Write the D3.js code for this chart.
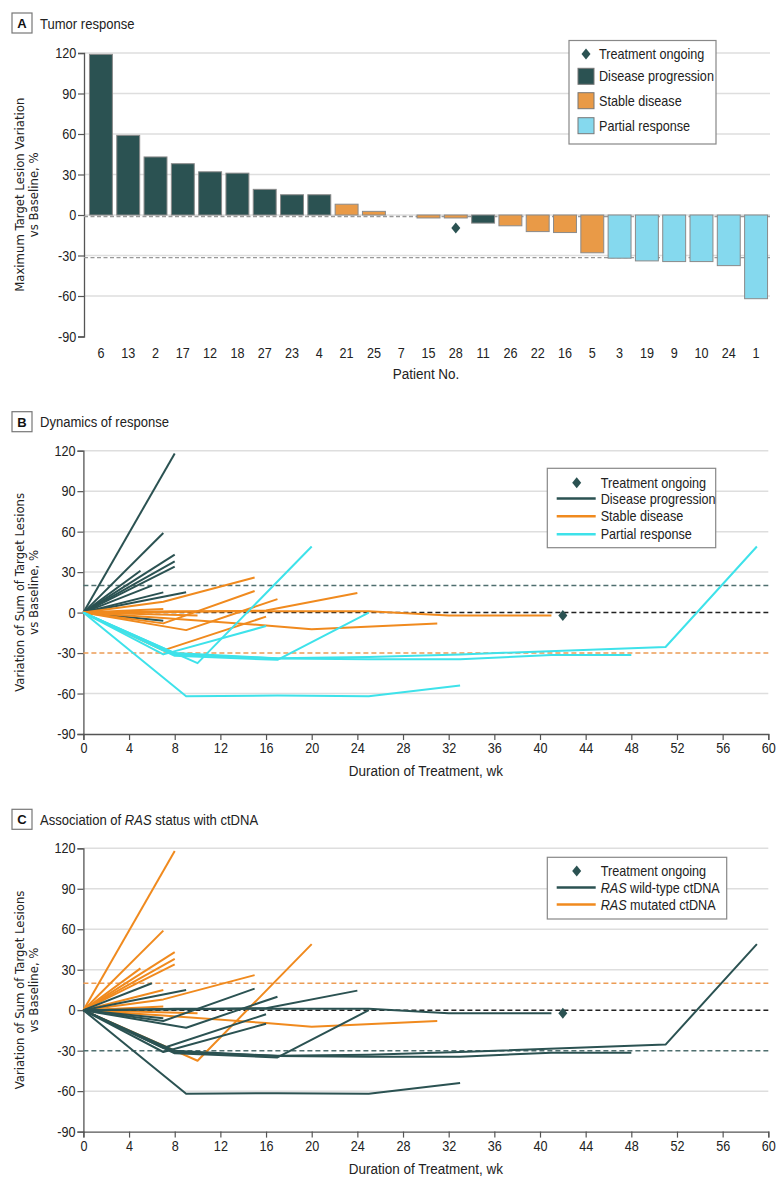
<!DOCTYPE html>
<html><head><meta charset="utf-8">
<script src="https://cdn.jsdelivr.net/npm/d3@7"></script>
<style>body{margin:0;background:#fff}</style>
</head><body>
<svg id="chart" width="780" height="1187" xmlns="http://www.w3.org/2000/svg"></svg>
<script>
// ---------- DATA ----------
const patients = ["6","13","2","17","12","18","27","23","4","21","25","7","15","28","11","26","22","16","5","3","19","9","10","24","1"];
const maxVariation = [119,59,43,38,32,31,19,15,15,8,2.7,0,-2.2,-2.2,-6,-8,-12.3,-13,-28,-32,-34,-34.5,-34.5,-37.5,-62];
const responseGroup = ["PD","PD","PD","PD","PD","PD","PD","PD","PD","SD","SD","SD","SD","SD","PD","SD","SD","SD","SD","PR","PR","PR","PR","PR","PR"];
const rasStatus = ["mut","mut","mut","mut","mut","mut","wt","mut","wt","mut","mut","wt","mut","wt","wt","wt","mut","wt","wt","wt","wt","wt","wt","mut","wt"];
const ongoingPatients = ["28"];
const ongoingVariationA = [-9.6];
const ongoingWeek = [42];
const ongoingValue = [-2.2];

// weeks and values of the sum of target lesions, one small array pair per patient
const trajectories = [
  {patient:"6",  weeks:[0,8],  values:[0,118]},
  {patient:"13", weeks:[0,7],  values:[0,59]},
  {patient:"2",  weeks:[0,8],  values:[0,43]},
  {patient:"17", weeks:[0,8],  values:[0,38]},
  {patient:"12", weeks:[0,8],  values:[0,34]},
  {patient:"18", weeks:[0,5],  values:[0,31]},
  {patient:"27", weeks:[0,6],  values:[0,20]},
  {patient:"23", weeks:[0,7],  values:[0,15]},
  {patient:"4",  weeks:[0,9],  values:[0,15]},
  {patient:"11", weeks:[0,7],  values:[0,-6]},
  {patient:"21", weeks:[0,7,15], values:[0,8,26]},
  {patient:"25", weeks:[0,7],  values:[0,2.7]},
  {patient:"7",  weeks:[0,8,16,24], values:[0,0.5,1.5,14.5]},
  {patient:"15", weeks:[0,10], values:[0,-2.2]},
  {patient:"28", weeks:[0,8,17,25,32,41], values:[0,1,1,1,-2.2,-2.2]},
  {patient:"26", weeks:[0,7,15], values:[0,-8,16]},
  {patient:"22", weeks:[0,7,16,20,31], values:[0,-4,-9.5,-12.3,-8]},
  {patient:"16", weeks:[0,9,17], values:[0,-13,10]},
  {patient:"5",  weeks:[0,7,16], values:[0,-28,-3]},
  {patient:"3",  weeks:[0,7,16], values:[0,-31,-10]},
  {patient:"19", weeks:[0,8,17,25,33,51,59], values:[0,-31,-33.8,-33,-31,-25.5,49]},
  {patient:"9",  weeks:[0,8,17,25,33,41,48], values:[0,-30,-34,-34.5,-34.5,-31.5,-31.5]},
  {patient:"10", weeks:[0,8,17,25], values:[0,-32,-35,0]},
  {patient:"24", weeks:[0,8,10,20], values:[0,-30,-37.5,49]},
  {patient:"1",  weeks:[0,9,17,25,33], values:[0,-62,-61.5,-62,-54]}
];

const yTicks = [-90,-60,-30,0,30,60,90,120];
const weekTicks = [0,4,8,12,16,20,24,28,32,36,40,44,48,52,56,60];
const legendA = ["Treatment ongoing","Disease progression","Stable disease","Partial response"];
const legendB = ["Treatment ongoing","Disease progression","Stable disease","Partial response"];

// ---------- STYLE ----------
const C_DARK = "#2b5252", C_ORANGE_BAR = "#e99a47", C_BLUE_BAR = "#85d9ee";
const C_ORANGE = "#f08a1e", C_CYAN = "#3ee2ea";
const barFill = {PD:C_DARK, SD:C_ORANGE_BAR, PR:C_BLUE_BAR};
const lineColB = {PD:C_DARK, SD:C_ORANGE, PR:C_CYAN};
const lineColC = {wt:C_DARK, mut:C_ORANGE};
const FN = "'Liberation Sans',Arial,sans-serif";
const FY = "'DejaVu Sans',Verdana,sans-serif";
const SX = 0.87;               // horizontal condensing of label text
const TICK_FS = 14.5, LEG_FS = 14.5, AXT_FS = 15.5, TTL_FS = 15;

const svg = d3.select("#chart");
svg.append("rect").attr("width",780).attr("height",1187).attr("fill","#fff");

const diamond = "M0,-5.5L4.5,0L0,5.5L-4.5,0Z";
const fmt = d => String(d);

// condensed text helper
function ctext(parent, x, y, fs, anchor){
  return parent.append("text").attr("transform",`translate(${x},${y}) scale(${SX},1)`)
    .attr("font-family",FN).attr("font-size",fs).attr("fill","#222")
    .attr("text-anchor",anchor||"start");
}

function panelTitle(letter, y, parts){
  svg.append("rect").attr("x",12).attr("y",y).attr("width",20).attr("height",20)
    .attr("fill","#fff").attr("stroke","#777").attr("stroke-width",1.2);
  svg.append("text").attr("x",22).attr("y",y+15).attr("text-anchor","middle")
    .attr("font-family",FN).attr("font-weight","bold").attr("font-size",13).attr("fill","#111").text(letter);
  const t = ctext(svg, 40, y+15.5, TTL_FS);
  parts.forEach(p=>t.append("tspan").attr("font-style",p.i?"italic":"normal").text(p.t));
}

function styleAxis(a){
  a.select(".domain").attr("stroke","#555").attr("stroke-width",1.3);
  a.selectAll(".tick line").attr("stroke","#555").attr("stroke-width",1.2);
  a.selectAll(".tick text").attr("font-family",FN).attr("font-size",TICK_FS).attr("fill","#222")
    .attr("transform",`scale(${SX},1)`);
}

// ---------- PANEL A ----------
panelTitle("A", 13, [{t:"Tumor response"}]);
const xA = d3.scaleBand().domain(patients).range([84,773]).paddingInner(0.16).paddingOuter(0.2);
const yA = d3.scaleLinear().domain([-90,120]).range([336.5,53]);
svg.append("g").selectAll("line").data(yTicks.filter(v=>v>-90)).join("line")
  .attr("x1",84).attr("x2",770).attr("y1",d=>yA(d)).attr("y2",d=>yA(d))
  .attr("stroke","#dedede").attr("stroke-width",1.5);
styleAxis(svg.append("g").attr("transform","translate(84,0)")
  .call(d3.axisLeft(yA).tickValues(yTicks).tickSize(6).tickPadding(3).tickFormat(fmt)));
["Maximum Target Lesion Variation","vs Baseline, %"].forEach((l,i)=>{
  svg.append("text").attr("transform",`translate(${24+i*14},${(yA(120)+yA(-90))/2}) rotate(-90)`)
    .attr("text-anchor","middle").attr("font-family",FY).attr("font-size",11.7).attr("fill","#222").text(l);
});
[-1.1,-31.6].forEach(v=>{
  svg.append("line").attr("x1",84).attr("x2",770).attr("y1",yA(v)).attr("y2",yA(v))
   .attr("stroke","#999").attr("stroke-width",1.4).attr("stroke-dasharray","4,2.5");
});
svg.append("g").selectAll("rect").data(patients).join("rect")
  .attr("x",d=>xA(d)).attr("width",xA.bandwidth())
  .attr("y",(d,i)=>yA(Math.max(0,maxVariation[i])))
  .attr("height",(d,i)=>Math.abs(yA(maxVariation[i])-yA(0)))
  .attr("fill",(d,i)=>barFill[responseGroup[i]])
  .attr("stroke","#8a8a8a").attr("stroke-width",1)
  .attr("display",(d,i)=>maxVariation[i]===0?"none":null);
svg.append("g").selectAll("path").data(ongoingPatients).join("path")
  .attr("d",diamond).attr("fill",C_DARK)
  .attr("transform",(d,i)=>`translate(${xA(d)+xA.bandwidth()/2},${yA(ongoingVariationA[i])})`);
patients.forEach(p=>ctext(svg, xA(p)+xA.bandwidth()/2, 357.5, TICK_FS, "middle").text(p));
ctext(svg, 426, 379, AXT_FS, "middle").text("Patient No.");
// legend A
(function(){
  const g = svg.append("g");
  g.append("rect").attr("x",569).attr("y",40.5).attr("width",147).attr("height",103.5)
    .attr("fill","#fff").attr("stroke","#888").attr("stroke-width",1.2);
  const rows=[54,76.3,100.7,125.7];
  g.append("path").attr("d",diamond).attr("fill",C_DARK).attr("transform",`translate(586,${rows[0]})`);
  ["PD","SD","PR"].forEach((k,i)=>{
    g.append("rect").attr("x",578).attr("y",rows[i+1]-8).attr("width",16).attr("height",16)
      .attr("fill",barFill[k]).attr("stroke","#777").attr("stroke-width",1);
  });
  legendA.forEach((t,i)=>ctext(g, 599, rows[i], LEG_FS).attr("dy","0.35em").text(t));
})();

// ---------- PANELS B & C ----------
function linePanel(top, colorFn, dashes, legendRows, legendBox, titleParts, letter, titleY){
  panelTitle(letter, titleY, titleParts);
  const x = d3.scaleLinear().domain([0,60]).range([83.4,768.3]);
  const y = d3.scaleLinear().domain([-90,120]).range([top+283.3, top]);
  svg.append("g").selectAll("line").data([120,90,60,30,-60]).join("line")
    .attr("x1",x(0)).attr("x2",x(60)).attr("y1",d=>y(d)).attr("y2",d=>y(d))
    .attr("stroke","#dedede").attr("stroke-width",1.5);
  styleAxis(svg.append("g").attr("transform",`translate(${x(0)},0)`)
    .call(d3.axisLeft(y).tickValues(yTicks).tickSize(6).tickPadding(3).tickFormat(fmt)));
  styleAxis(svg.append("g").attr("transform",`translate(0,${y(-90)})`)
    .call(d3.axisBottom(x).tickValues(weekTicks).tickSize(6).tickPadding(3).tickFormat(fmt)));
  ctext(svg, (x(0)+x(60))/2, y(-90)+42, AXT_FS, "middle").text("Duration of Treatment, wk");
  const cy=(y(120)+y(-90))/2;
  ["Variation of Sum of Target Lesions","vs Baseline, %"].forEach((l,i)=>{
    svg.append("text").attr("transform",`translate(${24+i*14},${cy}) rotate(-90)`)
      .attr("text-anchor","middle").attr("font-family",FY).attr("font-size",11.7).attr("fill","#222").text(l);
  });
  dashes.forEach(dd=>{
    svg.append("line").attr("x1",x(0)).attr("x2",x(60)).attr("y1",y(dd.v)).attr("y2",y(dd.v))
      .attr("stroke",dd.c).attr("stroke-width",1.5).attr("stroke-dasharray","5,3");
  });
  const line = d3.line().x(d=>x(d[0])).y(d=>y(d[1]));
  const order = trajectories.map(t=>({t, c:colorFn(t)}));
  order.sort((p,q)=>p.c.z-q.c.z);
  svg.append("g").selectAll("path").data(order).join("path")
    .attr("d",d=>line(d.t.weeks.map((w,j)=>[w,d.t.values[j]])))
    .attr("fill","none").attr("stroke",d=>d.c.col).attr("stroke-width",2).attr("stroke-linejoin","round");
  svg.append("g").selectAll("path").data(ongoingWeek).join("path").attr("d",diamond).attr("fill",C_DARK)
    .attr("transform",(d,i)=>`translate(${x(d)},${y(ongoingValue[i])})`);
  const g = svg.append("g");
  g.append("rect").attr("x",legendBox[0]).attr("y",legendBox[1]).attr("width",legendBox[2]).attr("height",legendBox[3])
    .attr("fill","#fff").attr("stroke","#888").attr("stroke-width",1.2);
  legendRows.forEach((r,i)=>{
    if(i===0){
      g.append("path").attr("d",diamond).attr("fill",C_DARK).attr("transform",`translate(576.7,${r.y})`);
    } else {
      g.append("line").attr("x1",556.7).attr("x2",595.7).attr("y1",r.y).attr("y2",r.y).attr("stroke",r.c).attr("stroke-width",2.5);
    }
    const t = ctext(g, 600.7, r.y, LEG_FS).attr("dy","0.35em");
    r.parts.forEach(p=>t.append("tspan").attr("font-style",p.i?"italic":"normal").text(p.t));
  });
}

const idx = p => patients.indexOf(p);
linePanel(450.7,
  t=>{const g=responseGroup[idx(t.patient)]; return {col:lineColB[g], z:{PD:0,SD:1,PR:2}[g]};},
  [{v:20,c:"#4f6f6f"},{v:0,c:"#222"},{v:-30,c:"#ec9c55"}],
  [{y:482.7,parts:[{t:legendB[0]}]},{y:498.5,c:C_DARK,parts:[{t:legendB[1]}]},
   {y:516.3,c:C_ORANGE,parts:[{t:legendB[2]}]},{y:534.3,c:C_CYAN,parts:[{t:legendB[3]}]}],
  [547.3,468.3,168.4,79.4],
  [{t:"Dynamics of response"}], "B", 411.7);

linePanel(848.3,
  t=>{const s=rasStatus[idx(t.patient)]; return {col:lineColC[s], z:s==="mut"?0:1};},
  [{v:20,c:"#ec9c55"},{v:0,c:"#222"},{v:-30,c:"#4f6f6f"}],
  [{y:871,parts:[{t:"Treatment ongoing"}]},
   {y:887.5,c:C_DARK,parts:[{t:"RAS",i:true},{t:" wild-type ctDNA"}]},
   {y:904.5,c:C_ORANGE,parts:[{t:"RAS",i:true},{t:" mutated ctDNA"}]}],
  [547.3,857.3,179.4,61.7],
  [{t:"Association of "},{t:"RAS",i:true},{t:" status with ctDNA"}], "C", 809.3);
</script>
</body></html>
